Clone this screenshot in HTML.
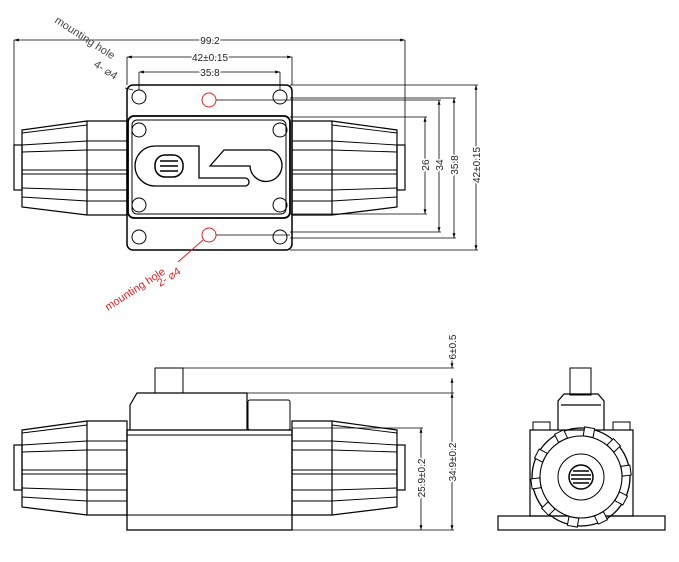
<!DOCTYPE html>
<html><head><meta charset="utf-8"><style>
html,body{margin:0;padding:0;background:#fff;}
svg{display:block}
text{font-family:"Liberation Sans",sans-serif;font-size:10px;fill:#222}
</style></head><body>
<svg width="679" height="562" viewBox="0 0 679 562" xmlns="http://www.w3.org/2000/svg">
<defs>
<marker id="a" viewBox="0 0 10 10" refX="10" refY="5" markerWidth="6" markerHeight="6" orient="auto-start-reverse"><path d="M0,2 L10,5 L0,8 z" fill="#000"/></marker>
<g id="conL" fill="none" stroke="#000" stroke-width="1.2">
<rect x="14" y="145" width="8" height="45"/>
<path d="M22,130 L87,121 L127,121 L127,215 L87,215 L22,207 Z"/>
<line x1="87" y1="121" x2="87" y2="215"/>
<path d="M22,145 L87,141 L127,141 M22,152 L87,150 L127,150 M22,170 L127,170 M22,174 L127,174 M22,188 L87,190 L127,190 M22,197 L87,201 L127,201 M22,133 L87,125" stroke-width="0.9"/>
</g>
<rect id="tooth" x="-5" y="-50" width="10" height="9" fill="#fff" stroke="#000" stroke-width="1"/>
</defs>
<g fill="none" stroke="#000" stroke-width="1">
<use href="#conL"/>
<use href="#conL" transform="translate(419,0) scale(-1,1)"/>
<rect x="127" y="85" width="165" height="165" rx="6" stroke-width="1.5"/>
<rect x="128" y="116" width="162" height="102" rx="6" stroke-width="1.8"/>
<rect x="132" y="120" width="154" height="94" rx="5"/>
<circle cx="139" cy="97" r="7"/><circle cx="280" cy="97" r="7"/>
<circle cx="139" cy="237" r="7"/><circle cx="280" cy="237" r="7"/>
<circle cx="139" cy="130" r="7"/><circle cx="280" cy="130" r="7"/>
<circle cx="139" cy="205" r="7"/><circle cx="280" cy="205" r="7"/>
<path d="M199,146 L155,146 A20,20 0 0 0 155,186 L245,186 A4,4 0 0 0 245,178 L199,178 Z" stroke-width="1.3"/>
<rect x="155" y="155" width="28" height="22" rx="10" stroke-width="1.5"/>
<path d="M160,161 h18 M160,166 h18 M160,171 h18" stroke-width="1.5"/>
<path d="M210,166 L224,150 L270,150 A16,16 0 1 1 250,166 Z" stroke-width="1.3"/>
<path d="M14,145 V40 M405,145 V40 M127,85 V57 M292,85 V57 M139,90 V72 M280,90 V72" stroke-width="0.8"/>
<line x1="14" y1="40" x2="405" y2="40" marker-start="url(#a)" marker-end="url(#a)" stroke-width="0.8"/>
<line x1="127" y1="57" x2="292" y2="57" marker-start="url(#a)" marker-end="url(#a)" stroke-width="0.8"/>
<line x1="139" y1="72" x2="280" y2="72" marker-start="url(#a)" marker-end="url(#a)" stroke-width="0.8"/>
<path d="M290,117 H427 M290,100 H441 M290,98 H456 M290,85 H478 M290,250 H478 M290,238 H456 M290,232 H441 M290,214 H427" stroke-width="0.8"/>
<line x1="425" y1="117" x2="425" y2="214" marker-start="url(#a)" marker-end="url(#a)" stroke-width="0.8"/>
<line x1="439" y1="100" x2="439" y2="232" marker-start="url(#a)" marker-end="url(#a)" stroke-width="0.8"/>
<line x1="454" y1="98" x2="454" y2="238" marker-start="url(#a)" marker-end="url(#a)" stroke-width="0.8"/>
<line x1="476" y1="85" x2="476" y2="250" marker-start="url(#a)" marker-end="url(#a)" stroke-width="0.8"/>
<line x1="216" y1="100" x2="290" y2="100" stroke-width="0.8"/>
<line x1="216" y1="235" x2="290" y2="235" stroke-width="0.8"/>
<line x1="125" y1="88" x2="133" y2="90" stroke-width="0.8"/>
<g transform="translate(0,300)"><use href="#conL"/><use href="#conL" transform="translate(419,0) scale(-1,1)"/></g>
<rect x="127" y="430" width="165" height="100" stroke-width="1.3"/>
<line x1="127" y1="435" x2="292" y2="435"/><line x1="127" y1="515" x2="292" y2="515"/>
<path d="M130,430 V405 L137,393 H247 V430" stroke-width="1.2"/>
<rect x="155" y="368" width="28" height="25"/>
<rect x="248" y="400" width="42" height="30" rx="2"/>
<path d="M183,368 H454 M247,393 H454 M292,428 H423 M292,530 H454" stroke-width="0.8"/>
<line x1="452" y1="350" x2="452" y2="368" marker-end="url(#a)" stroke-width="0.8"/>
<line x1="452" y1="393" x2="452" y2="378" marker-end="url(#a)" stroke-width="0.8"/>
<line x1="452" y1="393" x2="452" y2="530" marker-start="url(#a)" marker-end="url(#a)" stroke-width="0.8"/>
<line x1="421" y1="428" x2="421" y2="530" marker-start="url(#a)" marker-end="url(#a)" stroke-width="0.8"/>
<rect x="570" y="368" width="21" height="27"/>
<path d="M558,430 V401 L564,394 H598 L604,401 V430 M561,405 H601" stroke-width="1.2"/>
<rect x="530" y="430" width="103" height="86" stroke-width="1.2"/>
<path d="M533,430 V422 H550 V430 M613,430 V422 H630 V430"/>
<rect x="498" y="516" width="167" height="14" stroke-width="1.2"/>
<circle cx="581" cy="477" r="49" stroke-width="1.3"/>
<g transform="translate(581,477)">
<use href="#tooth" transform="rotate(10)"/><use href="#tooth" transform="rotate(46)"/><use href="#tooth" transform="rotate(82)"/><use href="#tooth" transform="rotate(118)"/><use href="#tooth" transform="rotate(154)"/><use href="#tooth" transform="rotate(190)"/><use href="#tooth" transform="rotate(226)"/><use href="#tooth" transform="rotate(262)"/><use href="#tooth" transform="rotate(298)"/><use href="#tooth" transform="rotate(334)"/>
</g>
<circle cx="581" cy="477" r="41" stroke-width="1.1" fill="#fff"/>
<circle cx="581" cy="477" r="23"/>
<circle cx="581" cy="477" r="12" stroke-width="1.5"/>
<path d="M573,471 h16 M571,475 h20 M571,479 h20 M573,483 h16" stroke-width="1.5"/>
</g>
<g fill="none" stroke="#e02020" stroke-width="1">
<circle cx="209" cy="100" r="7"/><circle cx="209" cy="235" r="7"/>
<line x1="203" y1="240" x2="178" y2="262"/>
</g>
<text x="210" y="44" text-anchor="middle" stroke="#fff" stroke-width="3" paint-order="stroke">99.2</text>
<text x="210" y="61" text-anchor="middle" stroke="#fff" stroke-width="3" paint-order="stroke">42±0.15</text>
<text x="210" y="76" text-anchor="middle" stroke="#fff" stroke-width="3" paint-order="stroke">35.8</text>
<text transform="translate(429,165) rotate(-90)" text-anchor="middle" stroke="#fff" stroke-width="3" paint-order="stroke">26</text>
<text transform="translate(443,165) rotate(-90)" text-anchor="middle" stroke="#fff" stroke-width="3" paint-order="stroke">34</text>
<text transform="translate(458,165) rotate(-90)" text-anchor="middle" stroke="#fff" stroke-width="3" paint-order="stroke">35.8</text>
<text transform="translate(480,165) rotate(-90)" text-anchor="middle" stroke="#fff" stroke-width="3" paint-order="stroke">42±0.15</text>
<text transform="translate(425,478) rotate(-90)" text-anchor="middle" stroke="#fff" stroke-width="3" paint-order="stroke">25.9±0.2</text>
<text transform="translate(456,462) rotate(-90)" text-anchor="middle" stroke="#fff" stroke-width="3" paint-order="stroke">34.9±0.2</text>
<text transform="translate(456,347) rotate(-90)" text-anchor="middle" stroke="#fff" stroke-width="3" paint-order="stroke">6±0.5</text>
<text transform="translate(54,22) rotate(33)" style="font-size:11px;fill:#444">mounting hole</text>
<text transform="translate(93,66) rotate(33)" style="font-size:11px;fill:#444">4- ⌀4</text>
<text transform="translate(108,311) rotate(-33)" style="font-size:11px;fill:#e02020">mounting hole</text>
<text transform="translate(160,287) rotate(-33)" style="font-size:11px;fill:#e02020">2- ⌀4</text>
</svg>
</body></html>
